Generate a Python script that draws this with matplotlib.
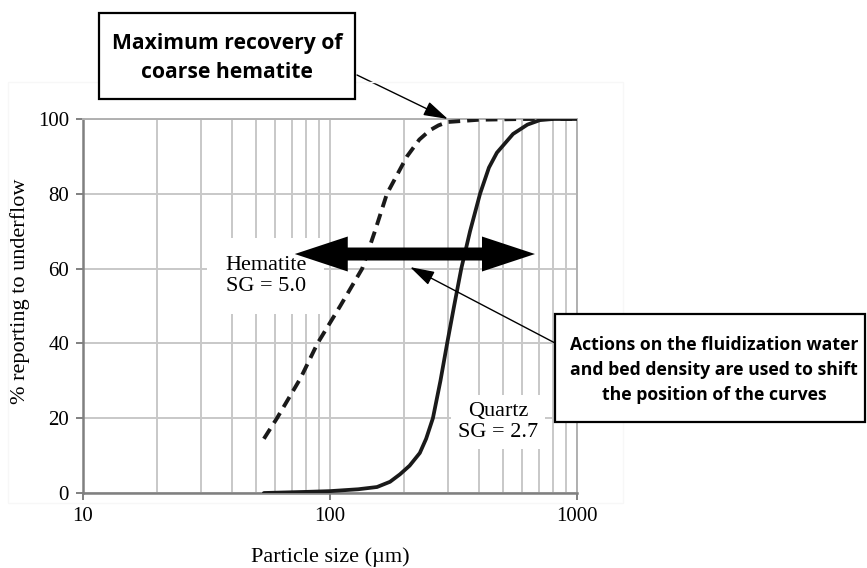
"""Partition curves of hematite and quartz in a teeter bed separator"""
import matplotlib.pyplot as plt
from matplotlib.patches import Rectangle, Polygon
from matplotlib.ticker import FixedLocator, NullFormatter

# data
hematite_size = [54, 61, 76, 89, 110, 135, 152, 170, 205, 230, 254, 275, 300, 400, 600, 1000]
hematite_pct = [14.5, 20, 30.7, 40, 50, 60, 70, 80, 90, 94.5, 97, 98.3, 99.2, 99.8, 100, 100]

quartz_size = [54, 80, 100, 130, 155, 175, 192, 210, 231, 245, 261, 280, 298, 318,
               340, 369, 405, 440, 474, 551, 630, 708, 800, 1000]
quartz_pct = [0, 0.3, 0.5, 1.0, 1.6, 3.0, 5.0, 7.3, 10.7, 14.5, 20, 30, 40, 50,
              60, 70, 80, 87, 91, 96, 98.5, 99.7, 100, 100]

x_ticks = [10, 100, 1000]
x_minor = [20, 30, 40, 50, 60, 70, 80, 90, 200, 300, 400, 500, 600, 700, 800, 900]
y_ticks = [0, 20, 40, 60, 80, 100]

SERIF = 'Liberation Serif'
SANS = 'Open Sans'
W, H = 867, 568


def px(x, y):
    """pixel position (from top-left) to figure fraction"""
    return x / W, 1 - y / H


def plot():
    fig = plt.figure(figsize=(8.67, 5.68), dpi=100)
    left, top = px(83, 119)
    right, bottom = px(577, 493)
    ax = fig.add_axes([left, bottom, right - left, top - bottom])

    # faint chart-area border
    fig.patches.append(Rectangle(px(8, 503), 615 / W, 421 / H, transform=fig.transFigure,
                                 fill=False, edgecolor='#f7f7f7', lw=1, zorder=0))

    ax.plot(quartz_size, quartz_pct, color='#1a1a1a', lw=2.7, solid_capstyle='round',
            solid_joinstyle='round', zorder=3)
    ax.plot(hematite_size, hematite_pct, color='#1a1a1a', lw=2.8,
            linestyle=(0, (3, 1.8)), zorder=3)

    ax.set_xscale('log')
    ax.set_xlim(10, 1000)
    ax.set_ylim(0, 100)
    ax.xaxis.set_major_locator(FixedLocator(x_ticks))
    ax.xaxis.set_minor_locator(FixedLocator(x_minor))
    ax.xaxis.set_minor_formatter(NullFormatter())
    ax.set_xticks(x_ticks, [str(t) for t in x_ticks])
    ax.set_yticks(y_ticks)
    ax.grid(which='both', color='#c8c8c8', lw=1.4, zorder=0)
    ax.tick_params(axis='both', which='major', direction='out', length=5, width=1.4,
                   color='#808080', labelsize=15, pad=5)
    ax.tick_params(axis='x', which='minor', length=0)
    for lbl in ax.get_xticklabels() + ax.get_yticklabels():
        lbl.set_fontfamily(SERIF)
        lbl.set_fontsize(15)
    for side in ['left', 'bottom']:
        ax.spines[side].set_color('#808080')
        ax.spines[side].set_linewidth(1.8)
    for side in ['top', 'right']:
        ax.spines[side].set_color('#b0b0b0')
        ax.spines[side].set_linewidth(1.4)

    fig.text(*px(330, 557), "Particle size (\u00b5m)", family=SERIF, fontsize=16,
             ha='center', va='center')
    fig.text(*px(20, 291), "% reporting to underflow", family=SERIF, fontsize=16,
             ha='center', va='center', rotation=90)

    # curve labels
    ax.text(55, 58, "Hematite\nSG = 5.0", family=SERIF, fontsize=16, ha='center',
            va='center', linespacing=1.15, zorder=4,
            bbox=dict(boxstyle='square,pad=0.8', fc='white', ec='none'))
    ax.text(479, 19, "Quartz\nSG = 2.7", family=SERIF, fontsize=16, ha='center',
            va='center', linespacing=1.15, zorder=4,
            bbox=dict(boxstyle='square,pad=0.3', fc='white', ec='none'))

    # big double arrow, one polygon in inches so the heads keep their shape
    fig.canvas.draw()
    to_in = lambda xy: ax.transData.transform(xy) / fig.dpi
    x0, y0 = to_in((72, 63.9))
    x1, _ = to_in((676, 63.9))
    shaft, head_w, head_l = 0.065, 0.175, 0.53
    outline = [(x0, y0), (x0 + head_l, y0 + head_w), (x0 + head_l, y0 + shaft),
               (x1 - head_l, y0 + shaft), (x1 - head_l, y0 + head_w), (x1, y0),
               (x1 - head_l, y0 - head_w), (x1 - head_l, y0 - shaft),
               (x0 + head_l, y0 - shaft), (x0 + head_l, y0 - head_w)]
    fig.patches.append(Polygon(outline, closed=True, fc='black', ec='none',
                               transform=fig.dpi_scale_trans, zorder=6))

    # callout boxes
    box_kw = dict(transform=fig.transFigure, fc='white', ec='black', lw=1.6, zorder=7)
    bx, by = px(99, 99)
    fig.patches.append(Rectangle((bx, by), 256 / W, 86 / H, **box_kw))
    fig.text(*px(227, 58), "Maximum recovery of\ncoarse hematite", family=SANS,
             weight='bold', fontsize=15.2, ha='center', va='center', linespacing=1.5,
             zorder=8)
    bx, by = px(555, 422)
    fig.patches.append(Rectangle((bx, by), 310 / W, 108 / H, **box_kw))
    fig.text(*px(714, 370), "Actions on the fluidization water\n"
             "and bed density are used to shift\nthe position of the curves",
             family=SANS, weight='bold', fontsize=12.7, ha='center', va='center',
             linespacing=1.5, zorder=8)

    arrow_kw = dict(arrowstyle='-|>,head_length=1.5,head_width=0.45', color='black',
                    lw=1.0, shrinkA=0, shrinkB=0)
    ax.annotate("", xy=(300, 100), xycoords='data', xytext=px(357, 75),
                textcoords='figure fraction', arrowprops=arrow_kw, zorder=8,
                annotation_clip=False)
    ax.annotate("", xy=(211, 60.4), xycoords='data', xytext=px(555, 343),
                textcoords='figure fraction', arrowprops=arrow_kw, zorder=8,
                annotation_clip=False)

    plt.savefig("out.png", dpi=100)


if __name__ == "__main__":
    plot()
